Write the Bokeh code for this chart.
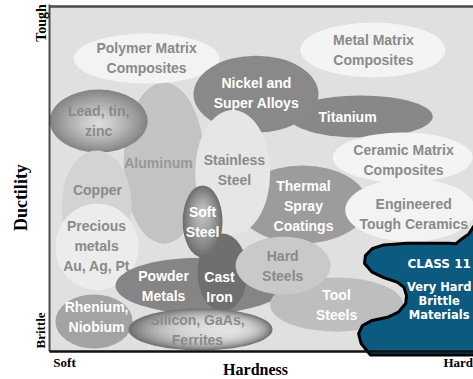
from bokeh.plotting import figure
from bokeh.models import Range1d
from bokeh.embed import file_html
from bokeh.resources import INLINE
from bokeh.core.properties import value

# ---------------- data (hardness 0-100 = soft->hard, ductility 0-100 = brittle->tough)
materials = ["Aluminum", "Polymer Matrix Composites", "Metal Matrix Composites", "Titanium",
             "Nickel and Super Alloys", "Lead, tin, zinc", "Copper", "Precious metals",
             "Thermal Spray Coatings", "Stainless Steel", "Ceramic Matrix Composites",
             "Engineered Tough Ceramics", "Powder Metals", "Cast Iron", "Soft Steel",
             "Rhenium, Niobium", "Silicon, GaAs, Ferrites", "Tool Steels", "Hard Steels"]
hardness_mid = [27.0, 22.9, 76.3, 73.4, 48.7, 11.6, 11.1, 11.2, 59.7, 43.2, 83.3,
                85.1, 35.6, 40.8, 36.1, 10.5, 35.6, 67.7, 55.1]
ductility_mid = [54.6, 84.9, 87.4, 68.1, 74.6, 66.8, 42.3, 30.3, 42.6, 51.9, 56.2,
                 41.0, 19.1, 22.9, 37.7, 8.7, 6.4, 13.6, 24.9]
hardness_span = [19.1, 34.4, 34.2, 34.0, 29.5, 23.1, 16.5, 19.6, 30.7, 17.7, 33.0,
                 30.7, 40.1, 11.8, 9.4, 18.2, 34.0, 31.4, 22.4]
ductility_span = [46.7, 14.5, 15.9, 12.2, 22.3, 18.3, 31.9, 25.2, 22.6, 36.2, 14.5,
                  18.3, 16.2, 22.6, 20.9, 15.7, 12.2, 15.7, 16.8]

label_lines = ["Aluminum", "Polymer Matrix\nComposites", "Metal Matrix\nComposites", "Titanium",
               "Nickel and\nSuper Alloys", "Lead, tin,\nzinc", "Copper", "Precious\nmetals\nAu, Ag, Pt",
               "Thermal\nSpray\nCoatings", "Stainless\nSteel", "Ceramic Matrix\nComposites",
               "Engineered\nTough Ceramics", "Powder\nMetals", "Cast\nIron", "Soft\nSteel",
               "Rhenium,\nNiobium", "Silicon, GaAs,\nFerrites", "Tool\nSteels", "Hard\nSteels"]
label_hardness = [25.7, 22.9, 76.4, 70.3, 48.8, 11.6, 11.3, 11.1, 59.9, 43.6, 83.5,
                  85.9, 26.9, 40.1, 36.1, 11.1, 34.9, 67.7, 55.0]
label_ductility = [54.5, 85.2, 87.3, 68.1, 74.8, 66.7, 46.7, 30.6, 42.3, 52.5, 55.5,
                   39.9, 19.0, 18.8, 37.4, 9.9, 6.2, 13.6, 24.9]

class11_hardness = [75.7, 73.5, 72.9, 73.8, 76.1, 79.7, 82.3, 84.0, 84.2, 83.6, 82.0,
                    78.8, 76.1, 74.3, 74.5, 76.1, 78.8, 84.4, 90.6, 94.2, 95.8, 97.3,
                    98.9, 100.0, 101.7, 101.7]
class11_ductility = [-1.0, 2.3, 5.2, 7.5, 9.0, 9.9, 11.4, 13.9, 16.2, 18.6, 20.1,
                     21.4, 23.0, 25.5, 27.8, 29.8, 30.9, 31.4, 31.4, 31.4, 31.2, 32.7,
                     34.1, 36.2, 38.0, -1.0]
class11_title = "CLASS 11"
class11_desc = "Very Hard\nBrittle\nMaterials"

axis_texts = {"x_low": "Soft", "x_high": "Hard", "x_title": "Hardness",
              "y_low": "Brittle", "y_high": "Tough", "y_title": "Ductility"}

# ---------------- styles
fills = {"Aluminum": "#c3c3c3", "Polymer Matrix Composites": "#f3f3f3",
         "Metal Matrix Composites": "#f4f4f4", "Titanium": "#888888",
         "Nickel and Super Alloys": "#898989", "Copper": "#d3d3d3",
         "Precious metals": "#ececec", "Thermal Spray Coatings": "#9c9c9c",
         "Stainless Steel": "#e6e6e6", "Ceramic Matrix Composites": "#f4f4f4",
         "Engineered Tough Ceramics": "#f3f3f3", "Powder Metals": "#858585",
         "Cast Iron": "#6f6f6f", "Rhenium, Niobium": "#a3a3a3",
         "Tool Steels": "#bebebe", "Hard Steels": "#c9c9c9"}
# outer colour, inner colour, focus shift x, focus shift y, exponent
gradients = {"Lead, tin, zinc": ("#858585", "#dcdcdc", 0.0, -0.05, 1.3),
             "Soft Steel": ("#6e6e6e", "#c4c4c4", 0.0, 0.15, 1.3),
             "Silicon, GaAs, Ferrites": ("#747474", "#e0e0e0", 0.2, 0.0, 3.0)}
white_text = {"Titanium", "Nickel and Super Alloys", "Thermal Spray Coatings", "Powder Metals",
              "Cast Iron", "Soft Steel", "Rhenium, Niobium", "Tool Steels"}


def mix(c1, c2, t):
    a = [int(c1[i:i + 2], 16) for i in (1, 3, 5)]
    b = [int(c2[i:i + 2], 16) for i in (1, 3, 5)]
    return "#" + "".join("%02x" % int(round(a[k] + (b[k] - a[k]) * t)) for k in range(3))


p = figure(width=473, height=379, x_range=Range1d(-11.56, 100.0), y_range=Range1d(-8.12, 101.74),
           output_backend="svg", toolbar_location=None, x_axis_location=None, y_axis_location=None,
           min_border=0)
p.grid.visible = False
p.outline_line_color = None
p.background_fill_color = "white"
p.border_fill_color = "white"

# frame background
p.quad(left=[0], right=[110], bottom=[0], top=[100], fill_color="#e0e0e0", line_color=None)

for i, name in enumerate(materials):
    x, y, w, h = hardness_mid[i], ductility_mid[i], hardness_span[i], ductility_span[i]
    if name in gradients:
        c_out, c_in, sx, sy, ex = gradients[name]
        n = 24
        for k in range(n):
            r = 1 - k / n          # relative radius of this layer
            t = 1 - r              # 0 at rim, ->1 at focus
            p.ellipse(x=[x + sx * w * t], y=[y + sy * h * t], width=[w * r], height=[h * r],
                      fill_color=mix(c_in, c_out, r ** ex), line_color=None)
    else:
        p.ellipse(x=[x], y=[y], width=[w], height=[h], fill_color=fills[name], line_color=None)

# class 11 region
p.patch(class11_hardness, class11_ductility, fill_color="#0c5a80", line_color="black", line_width=3)

# frame borders
p.line([0, 0], [0, 100.6], line_color="#4a4a4a", line_width=2)
p.line([0, 110], [100, 100], line_color="#4a4a4a", line_width=2.5)
p.line([0, 110], [0, 0], line_color="#111111", line_width=2.5)

# labels
for i, name in enumerate(materials):
    col = "#ffffff" if name in white_text else "#8a8a8a"
    if name == "Aluminum":
        col = "#979797"
    p.text(x=[label_hardness[i]], y=[label_ductility[i]], text=[label_lines[i]],
           text_align="center", text_baseline="middle", text_color=col,
           text_font=value("Liberation Sans"), text_font_style="bold",
           text_font_size="14px", text_line_height=1.25)

p.text(x=[91.9], y=[25.4], text=[class11_title], text_align="center", text_baseline="middle",
       text_color="white", text_font=value("DejaVu Sans"), text_font_style="bold",
       text_font_size="12px")
p.text(x=[91.9], y=[14.6], text=[class11_desc], text_align="center", text_baseline="middle",
       text_color="white", text_font=value("DejaVu Sans"), text_font_style="bold",
       text_font_size="11.5px", text_line_height=1.0)

serif = value("Liberation Serif")
p.text(x=[0.9], y=[-3.2], text=[axis_texts["x_low"]], text_align="left", text_baseline="middle",
       text_color="black", text_font=serif, text_font_style="bold", text_font_size="13px")
p.text(x=[92.9], y=[-3.2], text=[axis_texts["x_high"]], text_align="left", text_baseline="middle",
       text_color="black", text_font=serif, text_font_style="bold", text_font_size="13px")
p.text(x=[48.6], y=[-5.2], text=[axis_texts["x_title"]], text_align="center", text_baseline="middle",
       text_color="black", text_font=serif, text_font_style="bold", text_font_size="16px")
p.text(x=[-1.9], y=[95.2], text=[axis_texts["y_high"]], text_align="center", text_baseline="middle",
       angle=1.5708, text_color="black", text_font=serif, text_font_style="bold", text_font_size="14px")
p.text(x=[-2.1], y=[6.1], text=[axis_texts["y_low"]], text_align="center", text_baseline="middle",
       angle=1.5708, text_color="black", text_font=serif, text_font_style="bold", text_font_size="13px")
p.text(x=[-6.8], y=[44.6], text=[axis_texts["y_title"]], text_align="center", text_baseline="middle",
       angle=1.5708, text_color="black", text_font=serif, text_font_style="bold", text_font_size="18px")

open("out.html", "w").write(file_html(p, INLINE))
